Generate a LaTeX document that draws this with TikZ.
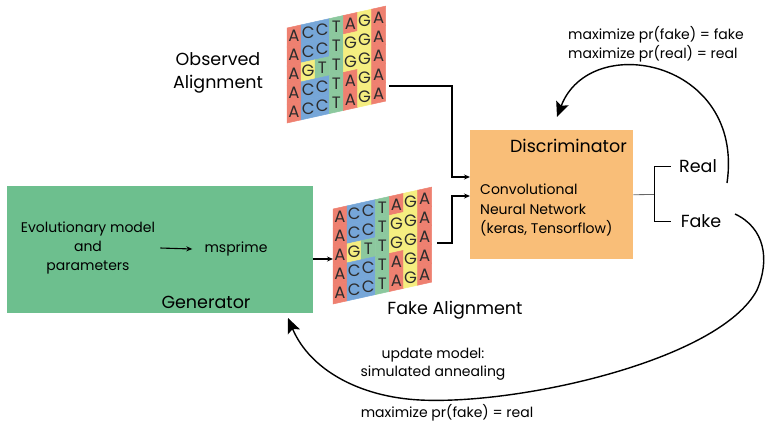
\documentclass[tikz,border=0pt]{standalone}
\usepackage{fontspec}
\setmainfont{Poppins}
\usetikzlibrary{arrows.meta}
\definecolor{genfill}{RGB}{109,191,142}
\definecolor{discfill}{RGB}{249,190,120}
\definecolor{nucA}{RGB}{238,128,112}
\definecolor{nucC}{RGB}{118,166,216}
\definecolor{nucG}{RGB}{245,238,128}
\definecolor{nucT}{RGB}{140,200,158}
\definecolor{letcol}{RGB}{45,45,45}
\newcommand\myaln[3]{%
  \begin{scope}[cm={1,0.222,0,1,(#2,#3)}]
    \foreach \row [count=\j from 0] in {{A,C,C,T,A,G,A},{A,C,C,T,G,G,A},{A,G,T,T,G,G,A},{A,C,C,T,A,G,A},{A,C,C,T,A,G,A}} {
      \foreach \b [count=\i from 0] in \row {
        \filldraw[fill=nuc\b, draw=nuc\b, line width=0.5pt] (\i*14.1,\j*19) rectangle ++(14.1,19);
        \node[nuc] at (\i*14.1+7.05,\j*19+9.8) {\b};
      }
    }
    \coordinate (#1) at (49.35,47.5);
  \end{scope}}
\begin{document}
\begin{tikzpicture}[x=1pt,y=-1pt,
  lab/.style={font=\fontsize{14}{19}\selectfont, inner sep=0pt},
  big/.style={font=\fontsize{17.5}{23}\selectfont, inner sep=0pt},
  nuc/.style={font=\fontsize{16.5}{18}\selectfont, text=letcol, inner sep=0pt},
  conn/.style={line width=1.1pt, -{Stealth[length=6pt,width=5pt]}},
  loopar/.style={line width=1.4pt, -{Stealth[length=15pt,width=13pt,inset=3pt]}},
  ]
\useasboundingbox (0,0) rectangle (765,424);

% generator
\node[fill=genfill, minimum width=306, minimum height=127, anchor=north west, inner sep=0pt] (gen) at (7,186) {};
\node[lab, align=center] (evo) at (88,248) {Evolutionary model\\and\\parameters};
\node[lab] (ms) at (236,249) {msprime};
\node[big] (genlab) at (206,302) {Generator};
\draw[conn] ([xshift=5pt]evo.east) -- ([xshift=-12pt]ms.west);

% discriminator
\node[fill=discfill, minimum width=163, minimum height=129, anchor=north west, inner sep=0pt] (disc) at (470,130) {};
\node[big, anchor=east] (disclab) at (627,146) {Discriminator};
\node[lab, align=left, anchor=west, font=\fontsize{14}{19.5}\selectfont] (cnn) at (480,210) {Convolutional\\Neural Network\\(keras, Tensorflow)};

% alignments
\myaln{obs}{287}{28}
\myaln{fk}{333}{209}
\node[big, align=center] (obslab) at (218,73) {Observed\\Alignment};
\node[big] (fklab) at (455,310) {Fake Alignment};

\coordinate (obsR) at (389,86);
\coordinate (fkL) at (333,259);
\coordinate (fkR) at (437,243);
\coordinate (genOut) at (313,259);
\coordinate (dIn1) at (470,177);
\coordinate (dIn2) at (470,196);

\draw[conn] (obsR) -| ([xshift=-18pt]dIn1) -- (dIn1);
\draw[conn] (fkR) -| ([xshift=-18pt]dIn2) -- (dIn2);
\draw[conn] (genOut) -- (fkL);

% outputs
\node[big] (real) at (698,166) {Real};
\node[big] (fake) at (701,221) {Fake};
\coordinate (brk) at (654,194.5);
\draw[line width=0.8pt, black!60] (disc.east) -- (brk);
\draw[line width=0.9pt] (brk) |- ([xshift=-8pt]real.west);
\draw[line width=0.9pt] (brk) |- ([xshift=-10pt]fake.west);

% loops
\coordinate (realOut) at (727,183);
\coordinate (discTop) at (557,117);
\coordinate (fakeOut) at (735,214);
\coordinate (genIn) at (288,318);
\draw[loopar] (realOut) .. controls (745,60) and (590,30) .. (discTop);
\draw[loopar] (fakeOut) .. controls (765,228) and (770,260) .. (757,290)
  .. controls (720,360) and (520,405) .. (420,400)
  .. controls (360,397) and (310,370) .. (genIn);

\node[lab, align=left, anchor=west, font=\fontsize{14}{19}\selectfont] (maxtop) at (568,44.5) {maximize pr(fake) = fake\\maximize pr(real) = real};
\node[lab, align=center, font=\fontsize{14}{18}\selectfont] (upd) at (433,364) {update model:\\simulated annealing};
\node[lab] (maxbot) at (447,413) {maximize pr(fake) = real};
\end{tikzpicture}
\end{document}
